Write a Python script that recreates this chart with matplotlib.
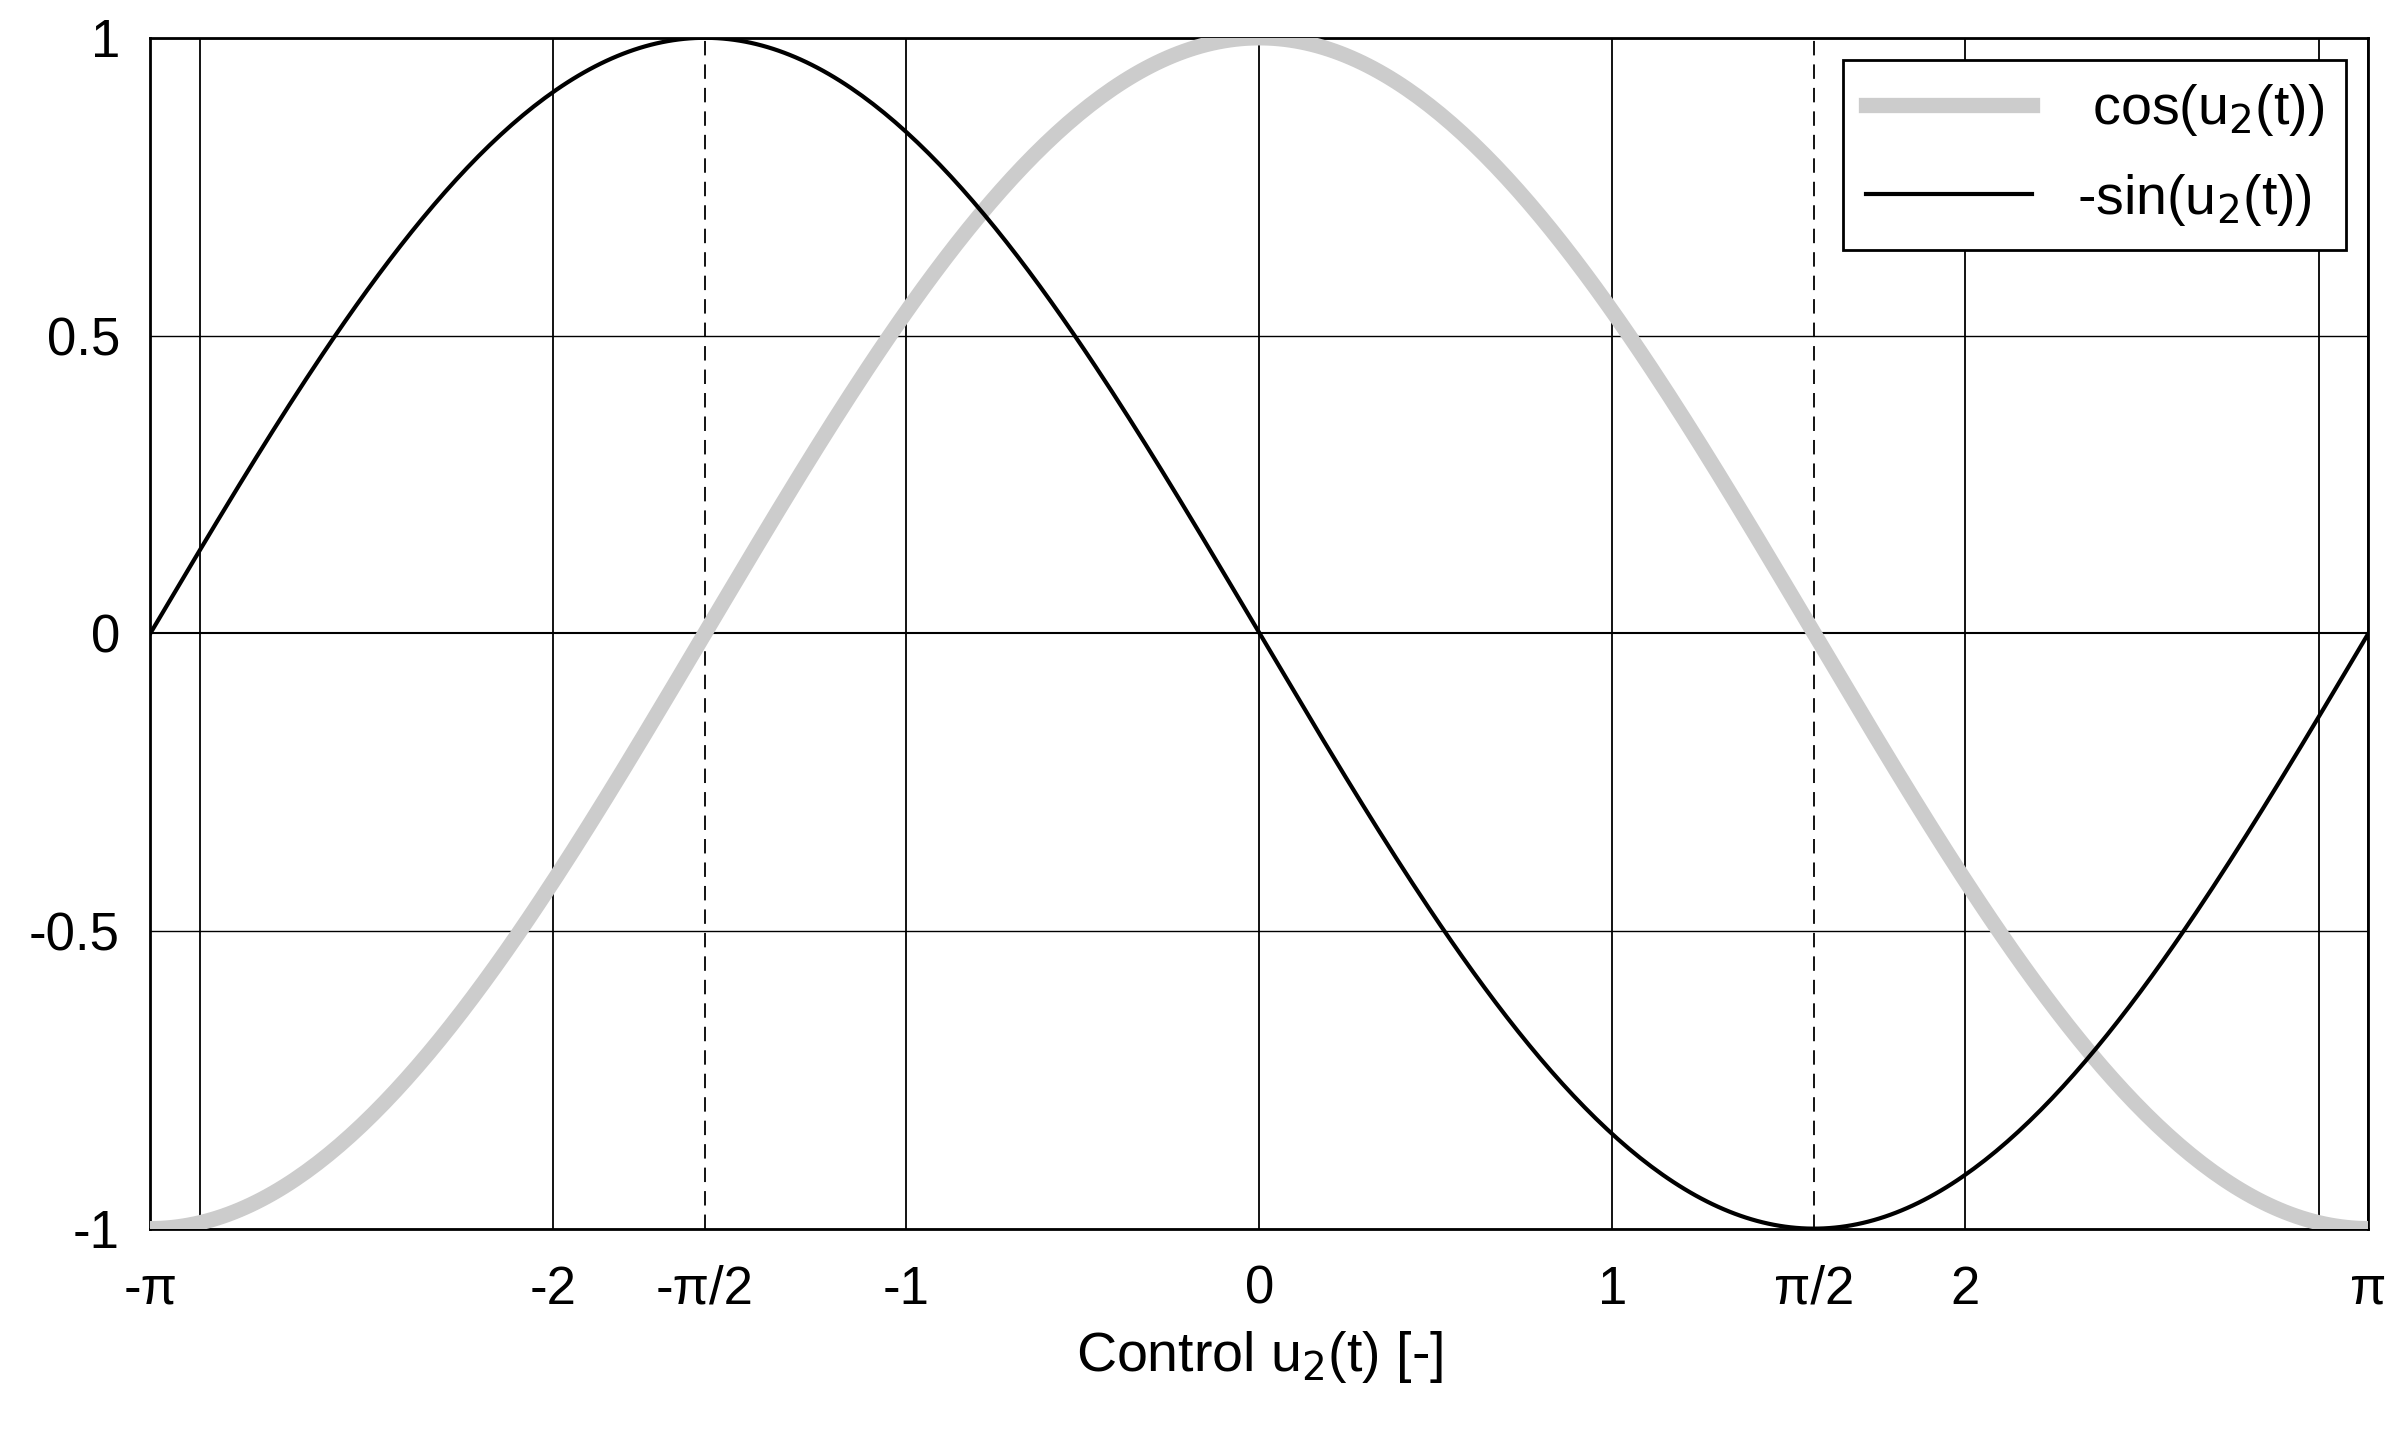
import numpy as np
import matplotlib
matplotlib.use("Agg")
import matplotlib.pyplot as plt

plt.rcParams["font.family"] = ["Liberation Sans", "DejaVu Sans"]

# control values and the two plotted functions
u2 = np.linspace(-np.pi, np.pi, 400)
cos_u2 = np.cos(u2)
neg_sin_u2 = -np.sin(u2)

x_ticks = [-np.pi, -2, -np.pi / 2, -1, 0, 1, np.pi / 2, 2, np.pi]
x_labels = ["-π", "-2", "-π/2", "-1", "0", "1", "π/2", "2", "π"]
x_grid_extra = [-3, 3]
y_ticks = [-1, -0.5, 0, 0.5, 1]
y_labels = ["-1", "-0.5", "0", "0.5", "1"]

fig = plt.figure(figsize=(24.07, 14.54), dpi=100)
ax = fig.add_axes([0.0625, 0.155, 0.9215, 0.819])

ax.plot(u2, cos_u2, color="#cccccc", linewidth=11, label=" cos(u$_2$(t))", zorder=3)
ax.plot(u2, neg_sin_u2, color="black", linewidth=3, label="-sin(u$_2$(t))", zorder=4)

for xt in x_ticks + x_grid_extra:
    ls = (0, (8, 5)) if abs(abs(xt) - np.pi / 2) < 1e-9 else "-"
    ax.axvline(xt, color="black", linewidth=1.3, linestyle=ls, zorder=1)
for yt in y_ticks:
    ax.axhline(yt, color="black", linewidth=1.0 if yt != 0 else 1.5, zorder=1)

ax.set_xlim(-np.pi, np.pi)
ax.set_ylim(-1, 1)
ax.set_xticks(x_ticks)
ax.set_xticklabels(x_labels)
ax.set_yticks(y_ticks)
ax.set_yticklabels(y_labels)
ax.tick_params(axis="both", labelsize=38, length=0)
ax.tick_params(axis="x", pad=26)
ax.tick_params(axis="y", pad=22)
for s in ax.spines.values():
    s.set_linewidth(2)
ax.set_xlabel("Control u$_2$(t) [-]", fontsize=40, labelpad=10)

leg = ax.legend(loc="upper right", fontsize=40, fancybox=False, framealpha=1,
                edgecolor="black", handlelength=3.0, borderaxespad=0.4,
                labelspacing=0.6)
leg.get_frame().set_linewidth(2)

fig.savefig("out.png", dpi=100)
